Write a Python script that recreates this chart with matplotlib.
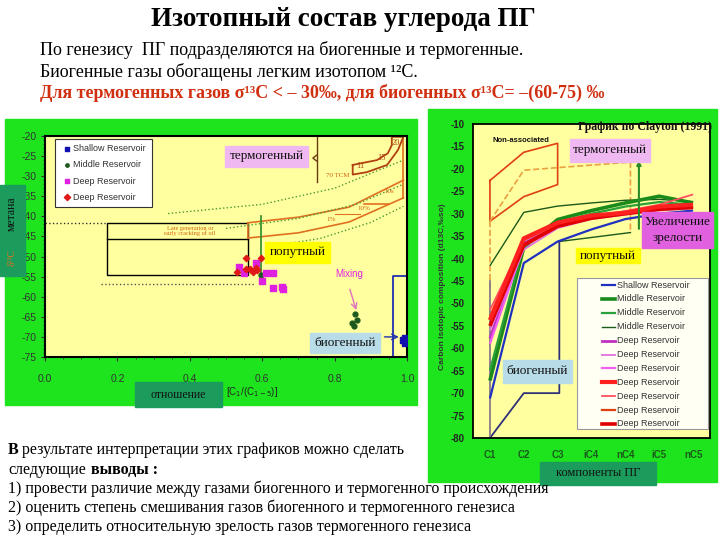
import numpy as np
import matplotlib
matplotlib.use("Agg")
import matplotlib.pyplot as plt
from matplotlib.patches import Rectangle

plt.rcParams['font.family'] = ['Liberation Serif', 'DejaVu Sans']
plt.rcParams['axes.unicode_minus'] = False

# ---------------- left chart: d13C methane vs C1/(C1-5) ----------------
shallow_x = [0.990, 0.995, 0.995]
shallow_y = [-70.8, -71.5, -70.3]
middle_x = [0.856, 0.862, 0.847, 0.853, 0.598]
middle_y = [-64.3, -65.8, -66.5, -67.3, -54.5]
deep_sq_x = [0.537, 0.584, 0.551, 0.610, 0.630, 0.600, 0.630, 0.655, 0.657]
deep_sq_y = [-52.6, -51.6, -54.1, -54.1, -54.1, -56.0, -57.9, -57.6, -58.0]
deep_dm_x = [0.554, 0.530, 0.567, 0.574, 0.587, 0.598, 0.556, 0.584]
deep_dm_y = [-50.3, -53.9, -53.2, -53.9, -53.4, -50.4, -53.2, -52.8]
left_labels = ['Shallow Reservoir', 'Middle Reservoir', 'Deep Reservoir', 'Deep Reservoir']
left_xticks = ['0.0', '0.2', '0.4', '0.6', '0.8', '1.0']

# guide lines of the left chart
band_x = [0.56, 0.70, 0.84, 0.99]
band_top = [-41.6, -40.2, -37.7, -31.0]
band_bot = [-45.4, -44.1, -41.4, -35.4]
dot1_x, dot1_y = [0.34, 0.60, 0.80, 0.99], [-39.3, -37.0, -33.0, -26.0]
dot2_x, dot2_y = [0.50, 0.70, 0.86, 0.99], [-43.0, -40.5, -37.0, -32.0]
dot3_x, dot3_y = [0.62, 0.76, 0.90, 0.99], [-47.5, -45.5, -41.5, -37.5]
ring_top_x = [0.85, 0.917, 0.947, 0.958, 0.958]
ring_top_y = [-27.2, -26.0, -24.3, -22.3, -20.2]
ring_bot_x = [0.85, 0.889, 0.945, 0.975, 0.99]
ring_bot_y = [-29.6, -29.0, -27.2, -23.5, -20.2]

# ---------------- right chart: Clayton (1991) ----------------
components = ['C1', 'C2', 'C3', 'iC4', 'nC4', 'iC5', 'nC5']
shallow_line = [-71.2, -41.0, -36.2, -33.5, -31.2, -30.0, -29.3]
middle_1 = [-67.2, -37.5, -31.3, -29.3, -27.6, -26.1, -27.6]
middle_2 = [-64.9, -37.0, -32.0, -30.0, -28.4, -27.4, -28.0]
middle_3 = [-41.6, -29.7, -28.3, -27.6, -27.0, -26.8, -27.3]
deep_1 = [-57.8, -36.6, -32.6, -30.6, -29.6, -28.8, -28.4]
deep_2 = [-56.0, -38.0, -33.2, -31.2, -30.2, -29.3, -28.8]
deep_3 = [-59.0, -37.2, -32.9, -30.9, -29.9, -29.0, -28.6]
deep_4 = [-53.7, -35.5, -32.0, -30.4, -29.8, -28.4, -28.0]
deep_5 = [-51.5, -36.0, -32.3, -30.6, -29.4, -28.0, -25.7]
deep_6 = [-53.0, -35.8, -32.5, -30.5, -29.7, -28.8, -28.5]
deep_7 = [-55.0, -37.0, -32.8, -31.0, -30.0, -29.0, -28.6]
right_labels = ['Shallow Reservoir', 'Middle Reservoir', 'Middle Reservoir', 'Middle Reservoir',
                'Deep Reservoir', 'Deep Reservoir', 'Deep Reservoir', 'Deep Reservoir',
                'Deep Reservoir', 'Deep Reservoir', 'Deep Reservoir']

nonassoc_top = [-22.6, -16.3, -14.3]
nonassoc_bot = [-31.7, -26.2, -23.5]
dash_x, dash_y = [0, 1, 4.15, 4.15], [-31.7, -20.3, -18.5, -34.2]
assoc_x, assoc_y = [2.05, 4.15], [-36.2, -34.2]
biogenic_x, biogenic_y = [0, 1, 2.05, 2.05], [-80, -70, -70, -36.2]

W, H = 720, 540
fig = plt.figure(figsize=(7.2, 5.4), dpi=100)


def px_axes(x0, y0, x1, y1, z):
    return fig.add_axes([x0 / W, 1 - y1 / H, (x1 - x0) / W, (y1 - y0) / H], zorder=z)


green = '#1ee41e'
yellow = '#ffffa0'
teal = '#1c9c5c'

bg = px_axes(0, 0, W, H, 0)
bg.set_xlim(0, W)
bg.set_ylim(H, 0)
bg.axis('off')
bg.add_patch(Rectangle((5, 119), 412, 286, color=green))
bg.add_patch(Rectangle((428, 109), 289, 373, color=green))

# ---- left axes
axl = px_axes(45, 136, 407, 357, 2)
axl.set_facecolor(yellow)
axl.set_xlim(0, 1.0)
axl.set_ylim(-75, -20)
axl.set_xticks(np.linspace(0, 1, 6))
axl.set_xticklabels(left_xticks)
axl.set_yticks(np.arange(-75, -19, 5))
axl.set_xticks(np.arange(0, 1.001, 0.05), minor=True)
axl.set_yticks(np.arange(-75, -19, 1), minor=True)
axl.tick_params(which='major', length=3, labelsize=7.5, colors='#333333', pad=3)
axl.tick_params(axis='x', which='major', pad=9)
axl.tick_params(which='minor', length=1.5, colors='#333333')
for lab in axl.get_xticklabels() + axl.get_yticklabels():
    lab.set_family('Liberation Sans')
for sp in axl.spines.values():
    sp.set_linewidth(1.5)

axl.plot([0, 0.17], [-41.6, -41.6], ls=':', color='#333333', lw=1)
axl.plot([0.155, 0.58], [-56.8, -56.8], ls=':', color='#555555', lw=1)
axl.add_patch(Rectangle((0.17, -54.6), 0.39, 13.0, fill=False, ec='black', lw=1))
axl.plot([0.17, 0.56], [-45.6, -45.6], color='black', lw=1)
axl.plot([0.56, 0.56], [-41.6, -45.4], color='#e07020', lw=1.2)
axl.plot(band_x, band_top, color='#e07020', lw=1.2)
axl.plot(band_x, band_bot, color='#e07020', lw=1.2)
axl.plot([0.99, 0.99], [-20.2, -35.4], color='#e07020', lw=1.2)
for dx, dy in [(dot1_x, dot1_y), (dot2_x, dot2_y), (dot3_x, dot3_y)]:
    axl.plot(dx, dy, ls=':', color='#4a9a30', lw=1)
axl.plot(ring_top_x + ring_bot_x[::-1] + ring_top_x[:1],
         ring_top_y + ring_bot_y[::-1] + ring_top_y[:1], color='#b04010', lw=1.3)
axl.plot([0.75, 0.75], [-20.2, -31.4], color='#6a3a10', lw=1)
axl.plot([0.75, 0.74, 0.75], [-24.8, -25.5, -26.2], color='#6a3a10', lw=1)
axl.plot([0.88, 0.95], [-37.0, -37.0], color='#e07020', lw=1.2)
axl.plot([0.80, 0.87], [-39.4, -39.4], color='#e07020', lw=0.8)
axl.plot([0.598, 0.598], [-40.0, -56.6], color='#2a8a2a', lw=1.2)
axl.plot([0.96, 0.96, 1.0], [-75, -54.8, -54.8], color='#2030b0', lw=1.3)
axl.annotate('', xy=(0.862, -64.0), xytext=(0.84, -57.5),
             arrowprops=dict(arrowstyle='->', color='#e070c0', lw=1))
axl.annotate('', xy=(0.985, -70.0), xytext=(0.93, -70.0),
             arrowprops=dict(arrowstyle='->', color='#2030b0', lw=1))
axl.text(0.40, -43.6, 'Late generation or\nearly cracking of oil', ha='center', va='center',
         fontsize=4.5, color='#d06010', linespacing=1.0)
axl.text(0.87, -27.9, '11', fontsize=6, color='#b04010', ha='center')
axl.text(0.93, -25.9, '15', fontsize=6, color='#b04010', ha='center')
axl.text(0.968, -22.3, '20', fontsize=6, color='#b04010', ha='center')
axl.text(0.81, -30.2, '70 TCM', fontsize=5, color='#d06010', ha='center')
axl.text(0.95, -34.2, '10s', fontsize=5, color='#d06010', ha='center')
axl.text(0.88, -38.4, '10%', fontsize=5, color='#d06010', ha='center')
axl.text(0.79, -41.2, '1%', fontsize=5, color='#d06010', ha='center')
axl.text(0.84, -55.0, 'Mixing', fontsize=7, color='#e020e0', ha='center',
         family='Liberation Sans')

axl.scatter(shallow_x, shallow_y, marker='s', s=16, color='#1010b0', zorder=4)
axl.scatter(middle_x, middle_y, marker='o', s=12, color='#1e5a1e', zorder=4)
axl.scatter(deep_sq_x, deep_sq_y, marker='s', s=16, color='#e020e0', zorder=4)
axl.scatter(deep_dm_x, deep_dm_y, marker='D', s=10, color='#e01818', zorder=5)

# ---- right axes
axr = px_axes(473, 124, 710, 438, 2)
axr.set_facecolor(yellow)
axr.set_xlim(-0.5, 6.5)
axr.set_ylim(-80, -10)
xs = np.arange(len(components))
axr.set_xticks(xs)
axr.set_xticklabels(components)
axr.set_yticks(np.arange(-80, -9, 5))
axr.tick_params(length=0, labelsize=7, pad=6)
axr.tick_params(axis='x', pad=9, colors='#1a5a1a')
for lab in axr.get_xticklabels() + axr.get_yticklabels():
    lab.set_family('Liberation Sans')
    lab.set_fontweight('bold')
for lab in axr.get_yticklabels():
    lab.set_color('#222222')
for sp in axr.spines.values():
    sp.set_linewidth(1.3)

axr.plot([0, 1, 2, 2, 1, 0, 0], nonassoc_top + nonassoc_bot[::-1] + nonassoc_top[:1],
         color='#e04010', lw=1.2)
axr.plot(dash_x, dash_y, ls='--', color='#e8a040', lw=1.2)
axr.plot([0, 0], [-31.7, -47.0], ls='--', color='#e8a040', lw=1.2)
axr.plot(assoc_x, assoc_y, color='#1a5a1a', lw=1)
axr.plot(biogenic_x, biogenic_y, color='#30307a', lw=1.3)
axr.plot([0, 0], [-45.0, -80.0], color='#8a7a8a', lw=1.3)
axr.annotate('', xy=(4.4, -17.5), xytext=(4.4, -34.0),
             arrowprops=dict(arrowstyle='-|>', color='#2a8a2a', lw=1.5, mutation_scale=6))

series = [shallow_line, middle_1, middle_2, middle_3, deep_1, deep_2, deep_3,
          deep_4, deep_5, deep_6, deep_7]
colors = ['#2030c0', '#1a8a1a', '#2aa03a', '#1a5a1a', '#c030c0', '#e070e0', '#f060f0',
          '#ff2020', '#ff5060', '#e04010', '#e00000']
widths = [1.6, 2.6, 1.6, 1.0, 2.0, 1.3, 1.6, 3.0, 1.3, 1.6, 2.6]
order = [0, 3, 1, 2, 4, 5, 6, 9, 8, 10, 7]
for i in order:
    axr.plot(xs, series[i], color=colors[i], lw=widths[i], solid_capstyle='butt')

# ---- overlay: legends, labelled boxes, slide text
ov = px_axes(0, 0, W, H, 10)
ov.set_xlim(0, W)
ov.set_ylim(H, 0)
ov.axis('off')
ov.patch.set_alpha(0)


def box(x0, y0, x1, y1, fc, text, size=9.5, tcolor='#111111'):
    ov.add_patch(Rectangle((x0, y0), x1 - x0, y1 - y0, color=fc))
    ov.text((x0 + x1) / 2, (y0 + y1) / 2, text, ha='center', va='center', fontsize=size,
            color=tcolor, linespacing=1.4)


# left legend
ov.add_patch(Rectangle((55, 139), 97, 68, fc='white', ec='#333333', lw=0.8))
leg_markers = [('s', '#1010b0'), ('o', '#1e5a1e'), ('s', '#e020e0'), ('D', '#e01818')]
for k, (lab, (m, c)) in enumerate(zip(left_labels, leg_markers)):
    yy = 148.5 + k * 16.3
    ov.scatter([67], [yy], marker=m, s=10 if m != 'o' else 6, color=c)
    ov.text(73, yy, lab, fontsize=6.5, va='center', color='#333333', family='Liberation Sans')

# right legend
ov.add_patch(Rectangle((577, 278), 131, 151, fc='#fffff4', ec='#999999', lw=0.8))
for k, lab in enumerate(right_labels):
    yy = 285 + k * 13.9
    ov.plot([602, 615], [yy, yy], color=colors[k], lw=widths[k])
    ov.text(617, yy, lab, fontsize=6.5, va='center', color='#333333', family='Liberation Sans')

# side boxes
box(0, 185, 25, 276, teal, '')
ov.text(12, 214, 'метана', rotation=90, ha='center', va='center', fontsize=8.5, color='#111111')
ov.text(12, 258, 'δ¹³C', rotation=90, ha='center', va='center', fontsize=7, color='#e07020')
box(135, 382, 222, 407, teal, 'отношение', size=8.5)
ov.text(226, 392, '[C$_1$/(C$_{1-5}$)]', fontsize=7, va='center', color='#222222',
        family='Liberation Sans')
box(540, 462, 656, 485, teal, 'компоненты ПГ', size=9)

box(225, 146, 308, 167, '#f0b8f0', 'термогенный')
box(265, 242, 330, 263, '#ffff00', 'попутный')
box(310, 333, 380, 353, '#b8dce8', 'биогенный')
box(570, 139, 650, 162, '#f0b8f0', 'термогенный')
box(642, 212, 713, 248, '#e060e0', 'Увеличение\nзрелости')
box(576, 248, 640, 263, '#ffff00', 'попутный')
box(503, 360, 572, 383, '#b8dce8', 'биогенный')

ov.text(712, 127, 'График по Clayton (1991)', ha='right', va='center', fontsize=8.5,
        fontweight='bold', color='#111111')
ov.text(521, 141, 'Non-associated', ha='center', va='center', fontsize=5.5,
        fontweight='bold', color='#111111', family='Liberation Sans')
ov.text(443, 287, 'Carbon isotopic composition (d13C,‰so)', rotation=90, ha='center',
        va='center', fontsize=6, fontweight='bold', color='#333333', family='Liberation Sans')

# slide text
ov.text(343, 20, 'Изотопный состав углерода ПГ', ha='center', va='center', fontsize=19.5,
        fontweight='bold', color='black')
ov.text(40, 50, 'По генезису  ПГ подразделяются на биогенные и термогенные.', va='center',
        fontsize=13)
ov.text(40, 72, 'Биогенные газы обогащены легким изотопом ¹²С.', va='center', fontsize=13)
ov.text(40, 93, 'Для термогенных газов σ¹³С < – 30‰, для биогенных σ¹³С= –(60-75) ‰',
        va='center', fontsize=13, fontweight='bold', color='#d03010')

fs = 11.5
ov.text(8, 450, 'В', va='center', fontsize=fs, fontweight='bold')
ov.text(22, 450, 'результате интерпретации этих графиков можно сделать', va='center',
        fontsize=fs)
ov.text(8, 470, 'следующие', va='center', fontsize=fs)
ov.text(91, 470, 'выводы :', va='center', fontsize=fs, fontweight='bold')
ov.text(8, 489, '1) провести различие между газами биогенного и термогенного происхождения',
        va='center', fontsize=fs)
ov.text(8, 508, '2) оценить степень смешивания газов биогенного и термогенного генезиса',
        va='center', fontsize=fs)
ov.text(8, 527, '3) определить относительную зрелость газов термогенного генезиса',
        va='center', fontsize=fs)

fig.savefig('out.png', dpi=100)
